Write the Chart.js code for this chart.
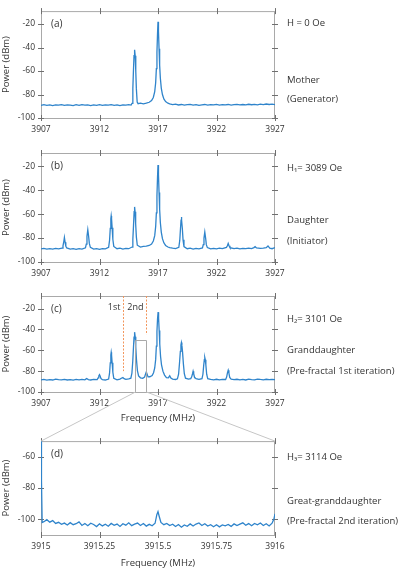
<!DOCTYPE html>
<html>
<head>
<meta charset="utf-8">
<script src="https://cdn.jsdelivr.net/npm/chart.js@4.4.0/dist/chart.umd.min.js"></script>
<style>
  body { margin: 0; background: #fff; width: 399px; height: 569px; position: relative; overflow: hidden; }
  canvas { position: absolute; left: 0; }
  .note { position: absolute; left: 287px; font: 9.5px "Open Sans", sans-serif; color: #333; white-space: nowrap; line-height: 12px; }
</style>
</head>
<body>
<canvas id="chartA" width="399" height="140" style="top:0px"></canvas>
<canvas id="chartB" width="399" height="140" style="top:140px"></canvas>
<canvas id="chartD" width="399" height="139" style="top:430px"></canvas>
<canvas id="chartC" width="399" height="165" style="top:280px"></canvas>

<div class="note" style="top:17px">H = 0 Oe</div>
<div class="note" style="top:74px">Mother</div>
<div class="note" style="top:93px">(Generator)</div>
<div class="note" style="top:162px">H₁= 3089 Oe</div>
<div class="note" style="top:214px">Daughter</div>
<div class="note" style="top:235px">(Initiator)</div>
<div class="note" style="top:313px">H₂= 3101 Oe</div>
<div class="note" style="top:344px">Granddaughter</div>
<div class="note" style="top:365px">(Pre-fractal 1st iteration)</div>
<div class="note" style="top:451px">H₃= 3114 Oe</div>
<div class="note" style="top:495px">Great-granddaughter</div>
<div class="note" style="top:515px">(Pre-fractal 2nd iteration)</div>

<script>
// tick labels
const freqTicks = [3907, 3912, 3917, 3922, 3927];
const zoomFreqTicks = [3915, 3915.25, 3915.5, 3915.75, 3916];
const powerTicks = [-100, -80, -60, -40, -20];
const zoomPowerTicks = [-100, -80, -60];

// (c) annotations: iteration markers and zoom window
const markerFreqs = [3914, 3916];
const markerEnds = [-80, -45];
const markerLabels = ['1st', '2nd'];
const zoomWindow = [3915, 3916];
const zoomBoxTop = -50;

// spectra: [frequency MHz, power dBm]
const spectrumA = [
  [3907,-89.3],[3907.25,-88.7],[3907.5,-89.2],[3907.75,-88.8],[3908,-89.4],[3908.25,-88.9],[3908.5,-89.1],[3908.75,-88.6],
  [3909,-89.3],[3909.25,-88.8],[3909.5,-89.0],[3909.75,-89.5],[3910,-88.7],[3910.25,-89.2],[3910.5,-88.6],[3910.75,-89.1],
  [3911,-88.8],[3911.25,-89.4],[3911.5,-88.9],[3911.75,-89.2],[3912,-88.7],[3912.25,-89.3],[3912.5,-88.8],[3912.75,-89.1],
  [3913,-88.6],[3913.25,-89.2],[3913.5,-88.9],[3913.75,-89.4],[3914,-88.8],[3914.25,-89.1],[3914.5,-88.7],[3914.7,-89.0],
  [3914.78,-87.5],[3914.85,-75],[3914.9,-60],[3914.95,-47],[3915,-42],[3915.05,-47],[3915.1,-60],[3915.15,-75],
  [3915.22,-86.5],[3915.3,-87.8],[3915.5,-87.4],[3915.75,-87.9],[3916,-87.3],[3916.25,-86.6],[3916.45,-85.2],[3916.6,-82.5],
  [3916.72,-77.5],[3916.8,-70],[3916.86,-58],[3916.91,-44],[3916.96,-28],[3917,-18],[3917.04,-26],[3917.09,-41],
  [3917.14,-55],[3917.2,-66],[3917.28,-74.5],[3917.38,-80],[3917.5,-83.8],[3917.65,-86],[3917.85,-87.4],[3918,-88.0],
  [3918.25,-88.6],[3918.5,-88.2],[3918.75,-88.9],
  [3919,-88.5],[3919.25,-89.1],[3919.5,-88.7],[3919.75,-88.4],[3920,-89.0],[3920.25,-88.6],[3920.5,-89.2],[3920.75,-88.8],
  [3921,-88.5],[3921.25,-89.1],[3921.5,-88.7],[3921.75,-88.9],[3922,-88.4],[3922.25,-89.0],[3922.5,-88.6],[3922.75,-88.9],
  [3923,-88.5],[3923.25,-89.1],[3923.5,-88.7],[3923.75,-88.4],[3924,-88.9],[3924.25,-88.5],[3924.5,-88.8],[3924.75,-88.3],
  [3925,-88.7],[3925.25,-88.4],[3925.5,-88.8],[3925.75,-88.2],[3926,-88.6],[3926.25,-88.1],[3926.5,-88.5],[3926.75,-88.2],
  [3927,-88.6]
];

const spectrumB = [
  [3907,-89.1],[3907.25,-88.7],[3907.5,-89.3],[3907.75,-88.8],[3908,-89.2],[3908.25,-88.6],[3908.5,-89.0],[3908.8,-88.4],
  [3908.88,-86.5],[3908.94,-83.5],[3909,-79.5],[3909.06,-83.5],[3909.12,-86.8],[3909.2,-88.3],[3909.5,-89.2],[3909.75,-88.8],
  [3910,-89.4],[3910.25,-88.9],[3910.5,-89.3],[3910.8,-88.2],[3910.87,-85],[3910.93,-78.5],[3911,-73],[3911.07,-78.5],
  [3911.13,-84.5],[3911.22,-87.8],[3911.5,-89.2],[3911.75,-88.8],[3912,-89.5],[3912.25,-88.9],[3912.5,-89.1],[3912.78,-87.8],
  [3912.86,-82],[3912.92,-72],[3912.97,-64],[3913,-61.5],[3913.03,-64],[3913.08,-71.5],[3913.14,-81],[3913.22,-87],
  [3913.5,-88.9],[3913.75,-88.5],[3914,-89.2],[3914.25,-88.7],[3914.5,-88.9],[3914.78,-87.5],[3914.85,-81],[3914.91,-69],
  [3914.96,-58],[3915,-54],[3915.04,-58],[3915.09,-68],[3915.15,-79],[3915.23,-86],[3915.5,-87.6],[3915.75,-87.0],
  [3916,-86.8],[3916.25,-86.2],[3916.45,-85.0],[3916.6,-82.5],[3916.72,-78],[3916.8,-70.5],[3916.86,-59],[3916.91,-45],
  [3916.96,-29],[3917,-19],[3917.04,-27],[3917.09,-42],[3917.14,-56],[3917.2,-67],[3917.28,-75],[3917.38,-80.5],
  [3917.5,-84],[3917.65,-86.2],[3917.85,-87.5],[3918,-88.0],[3918.25,-88.5],[3918.5,-88.8],[3918.78,-87.8],[3918.86,-82],
  [3918.92,-72.5],[3918.97,-65],[3919,-62.5],[3919.03,-65],[3919.08,-72],[3919.14,-81.5],[3919.22,-87.2],[3919.5,-88.9],
  [3919.75,-88.5],[3920,-89.2],[3920.25,-88.7],[3920.5,-89.0],[3920.8,-88.3],[3920.87,-85.5],[3920.93,-80],[3921,-75],
  [3921.07,-80],[3921.13,-85.5],[3921.22,-88],[3921.5,-89.1],[3921.75,-88.6],[3922,-89.0],[3922.25,-88.5],[3922.5,-88.9],
  [3922.85,-87.8],[3922.93,-86.5],[3923,-84.5],[3923.07,-86.5],[3923.15,-88],[3923.5,-88.8],[3923.75,-88.4],
  [3924,-89.0],[3924.25,-88.6],[3924.5,-88.9],[3924.75,-88.5],[3925,-88.8],[3925.2,-88.0],[3925.3,-87.2],[3925.42,-88.3],
  [3925.75,-88.7],[3926,-88.4],[3926.25,-88.0],[3926.4,-86.6],[3926.55,-88.4],[3926.75,-88.9],[3927,-87.9]
];

const spectrumC = [
  [3907,-88.4],[3907.25,-88.0],[3907.5,-88.6],[3907.75,-88.1],[3908,-88.5],[3908.25,-87.6],[3908.5,-88.2],[3908.75,-88.4],
  [3909,-87.9],[3909.25,-88.5],[3909.5,-88.1],[3909.75,-88.6],[3910,-88.0],[3910.25,-88.4],[3910.5,-87.9],[3910.75,-88.3],
  [3910.9,-87.0],[3911.05,-88.1],[3911.25,-88.5],[3911.5,-88.0],[3911.8,-88.1],[3911.88,-86.5],[3911.94,-84.5],[3912,-83.3],
  [3912.06,-84.8],[3912.13,-87.2],[3912.25,-88.2],[3912.5,-88.5],[3912.78,-87.6],[3912.86,-82],[3912.92,-72],[3912.97,-64.5],
  [3913,-62],[3913.03,-64.5],[3913.08,-72],[3913.14,-81],[3913.22,-86.8],[3913.5,-88.3],[3913.75,-87.6],[3913.9,-86.6],
  [3914,-86.2],[3914.1,-87.2],[3914.25,-87.9],[3914.5,-87.5],[3914.68,-86.8],[3914.77,-82],[3914.84,-71],[3914.9,-58],
  [3914.95,-47.5],[3915,-42.7],[3915.05,-47],[3915.1,-57],[3915.16,-69],[3915.24,-79.5],[3915.34,-84.5],[3915.5,-86.4],
  [3915.7,-86.8],[3915.85,-85.8],[3915.93,-83],[3916,-80.8],[3916.07,-83],[3916.15,-85.5],[3916.3,-85.4],[3916.5,-84.2],
  [3916.62,-81.5],[3916.72,-77],[3916.8,-69],[3916.86,-56],[3916.91,-42],[3916.96,-30],[3917.01,-23.5],[3917.05,-29],
  [3917.1,-41],[3917.15,-54],[3917.22,-66],[3917.3,-74],[3917.42,-80],[3917.56,-83.8],[3917.72,-86.2],[3917.88,-86.4],
  [3918,-84.5],[3918.1,-86.6],[3918.25,-87.6],[3918.5,-88.0],[3918.66,-87.4],[3918.76,-83],[3918.84,-72],[3918.91,-61],
  [3918.96,-55],[3919,-52.6],[3919.04,-55],[3919.1,-62],[3919.17,-73],[3919.25,-82.5],[3919.35,-86.8],[3919.6,-87.7],
  [3919.8,-87.2],[3919.88,-85.5],[3919.95,-82.5],[3920,-80.1],[3920.05,-82.5],[3920.12,-85.8],[3920.25,-87.3],[3920.5,-87.8],
  [3920.76,-87.2],[3920.84,-83],[3920.91,-74],[3920.96,-69],[3921,-67],[3921.04,-69],[3921.09,-74],[3921.16,-83],
  [3921.25,-87.2],[3921.5,-87.9],[3921.75,-88.3],[3922,-87.8],[3922.25,-88.4],[3922.5,-87.9],[3922.78,-88.0],[3922.87,-85.5],
  [3922.94,-81.5],[3923,-79.2],[3923.06,-81.8],[3923.13,-86],[3923.25,-87.6],[3923.5,-88.2],[3923.75,-87.8],
  [3924,-88.4],[3924.25,-88.0],[3924.5,-88.5],[3924.75,-87.7],[3925,-88.1],[3925.25,-88.4],[3925.5,-87.6],[3925.75,-88.0],
  [3926,-88.3],[3926.25,-87.8],[3926.5,-88.2],[3926.75,-87.9],[3927,-88.2]
];

const spectrumD = [
  [3915,-43],[3915.002,-75],[3915.005,-102],[3915.0125,-101.5],[3915.025,-100.2],[3915.0375,-101.8],[3915.05,-100.8],
  [3915.0625,-102.6],[3915.075,-101.9],[3915.0875,-103.2],[3915.1,-102.4],[3915.1125,-103.6],[3915.125,-102.1],
  [3915.1375,-103.4],[3915.15,-102.8],[3915.1625,-101.6],[3915.175,-103.9],[3915.1875,-102.7],[3915.2,-104.1],
  [3915.2125,-102.5],[3915.225,-103.3],[3915.2375,-104.6],[3915.25,-102.9],[3915.2625,-104.2],[3915.275,-103.1],
  [3915.2875,-104.4],[3915.3,-102.6],[3915.3125,-103.8],[3915.325,-103.0],[3915.3375,-104.5],[3915.35,-102.8],
  [3915.3625,-103.7],[3915.375,-102.2],[3915.3875,-104.0],[3915.4,-103.1],[3915.4125,-102.4],[3915.425,-103.9],
  [3915.4375,-102.7],[3915.45,-104.3],[3915.4625,-103.2],[3915.475,-104.1],[3915.4875,-102.5],[3915.495,-97],
  [3915.5,-95.1],[3915.505,-98],[3915.5125,-102.0],[3915.525,-103.4],[3915.5375,-102.6],[3915.55,-104.0],
  [3915.5625,-103.1],[3915.575,-104.6],[3915.5875,-103.3],[3915.6,-105.0],[3915.6125,-103.6],[3915.625,-104.4],
  [3915.6375,-102.9],[3915.65,-104.2],[3915.6625,-103.0],[3915.675,-102.3],[3915.6875,-103.9],[3915.7,-102.8],
  [3915.7125,-104.3],[3915.725,-103.4],[3915.7375,-104.7],[3915.75,-103.5],[3915.7625,-104.8],[3915.775,-103.6],
  [3915.7875,-104.2],[3915.8,-103.3],[3915.8125,-104.5],[3915.825,-102.9],[3915.8375,-104.0],[3915.85,-103.1],
  [3915.8625,-102.2],[3915.875,-103.8],[3915.8875,-102.7],[3915.9,-104.1],[3915.9125,-102.6],[3915.925,-103.5],
  [3915.9375,-102.3],[3915.95,-103.9],[3915.9625,-102.8],[3915.975,-104.2],[3915.9875,-102.4],[3915.995,-100],
  [3916,-96.5]
];

const FONT = '"Open Sans", sans-serif';
const TEXT = '#333333';

// box around the plot with ticks on all four sides
const framePlugin = {
    id: 'frame',
    beforeDatasetsDraw(chart, args, opts) {
        const {ctx, chartArea: a, scales: {x, y}} = chart;
        ctx.save();
        ctx.strokeStyle = '#a9a9a9';
        ctx.lineWidth = 1;
        ctx.strokeRect(a.left + 0.5, a.top + 0.5, a.right - a.left - 1, a.bottom - a.top);
        ctx.strokeStyle = '#6f6f6f';
        ctx.beginPath();
        x.ticks.forEach(t => {
            const px = Math.round(x.getPixelForValue(t.value)) + 0.5;
            ctx.moveTo(px, a.top - 3); ctx.lineTo(px, a.top + 3);
            ctx.moveTo(px, a.bottom - 3); ctx.lineTo(px, a.bottom + 3);
        });
        y.ticks.forEach(t => {
            const py = Math.round(y.getPixelForValue(t.value)) + 0.5;
            ctx.moveTo(a.left - 3, py); ctx.lineTo(a.left + 3, py);
            ctx.moveTo(a.right - 3, py); ctx.lineTo(a.right + 3, py);
        });
        ctx.stroke();
        ctx.fillStyle = TEXT;
        ctx.font = '10px ' + FONT;
        ctx.textBaseline = 'middle';
        ctx.fillText(opts.label, a.left + 10, a.top + 13);
        ctx.restore();
    }
};

function makeChart(id, data, o) {
    return new Chart(document.getElementById(id), {
        type: 'line',
        data: {
            datasets: [{
                data: data.map(p => ({x: p[0], y: p[1]})),
                borderColor: '#2f84cb',
                borderWidth: 1.3,
                pointRadius: 0,
                tension: 0
            }]
        },
        options: {
            responsive: false,
            animation: false,
            devicePixelRatio: 1,
            layout: {padding: {top: o.padTop, right: 124, left: 0, bottom: o.padBottom || 0}},
            plugins: {
                legend: {display: false},
                tooltip: {enabled: false},
                frame: {label: o.label}
            },
            scales: {
                x: {
                    type: 'linear',
                    min: o.xMin, max: o.xMax,
                    grid: {display: false, drawTicks: false},
                    border: {display: false},
                    afterBuildTicks: s => { s.ticks = o.xTicks.map(v => ({value: v})); },
                    afterFit: s => { s.height = o.xHeight; },
                    ticks: {
                        font: {family: FONT, size: 8.5}, color: TEXT, padding: 6,
                        maxRotation: 0, autoSkip: false,
                        callback: v => String(v)
                    },
                    title: {
                        display: !!o.xTitle, text: 'Frequency (MHz)',
                        font: {family: FONT, size: 9.5}, color: TEXT, padding: 0
                    }
                },
                y: {
                    min: o.yMin, max: o.yMax,
                    grid: {display: false, drawTicks: false},
                    border: {display: false},
                    afterBuildTicks: s => { s.ticks = o.yTicks.map(v => ({value: v})); },
                    afterFit: s => { s.width = 41; },
                    ticks: {
                        font: {family: FONT, size: 8.5}, color: TEXT, padding: 6,
                        callback: v => String(v)
                    },
                    title: {
                        display: true, text: 'Power (dBm)',
                        font: {family: FONT, size: 9.5}, color: TEXT, padding: {top: 1, bottom: 0}
                    }
                }
            }
        },
        plugins: [framePlugin].concat(o.plugins || [])
    });
}

makeChart('chartA', spectrumA, {
    label: '(a)', padTop: 9, xHeight: 22, xMin: 3907, xMax: 3927, yMin: -100, yMax: -9,
    xTicks: freqTicks, yTicks: powerTicks
});

makeChart('chartB', spectrumB, {
    label: '(b)', padTop: 13, xHeight: 18, xMin: 3907, xMax: 3927, yMin: -100, yMax: -9,
    xTicks: freqTicks, yTicks: powerTicks
});

const chartD = makeChart('chartD', spectrumD, {
    label: '(d)', padTop: 11, xHeight: 34, xMin: 3915, xMax: 3916, yMin: -110, yMax: -50,
    xTicks: zoomFreqTicks, yTicks: zoomPowerTicks, xTitle: true
});

// markers, zoom box and the guide lines down to panel (d)
const zoomGuides = {
    id: 'zoomGuides',
    afterDatasetsDraw(chart) {
        const {ctx, chartArea: a, scales: {x, y}} = chart;
        ctx.save();
        ctx.lineWidth = 1;
        ctx.font = '9px ' + FONT;
        ctx.fillStyle = TEXT;
        ctx.textAlign = 'right';
        ctx.textBaseline = 'middle';
        markerFreqs.forEach((f, i) => {
            const px = Math.round(x.getPixelForValue(f)) + 0.5;
            ctx.strokeStyle = '#f2965c';
            ctx.setLineDash([2, 1.5]);
            ctx.beginPath();
            ctx.moveTo(px, a.top);
            ctx.lineTo(px, y.getPixelForValue(markerEnds[i]));
            ctx.stroke();
            ctx.fillText(markerLabels[i], px - 3, a.top + 11);
        });
        ctx.setLineDash([]);
        const x0 = Math.round(x.getPixelForValue(zoomWindow[0])) + 0.5;
        const x1 = Math.round(x.getPixelForValue(zoomWindow[1])) + 0.5;
        const yTop = Math.round(y.getPixelForValue(zoomBoxTop)) + 0.5;
        ctx.strokeStyle = '#a9a9a9';
        ctx.beginPath();
        ctx.moveTo(x0, a.bottom); ctx.lineTo(x0, yTop); ctx.lineTo(x1, yTop); ctx.lineTo(x1, a.bottom);
        ctx.stroke();
        const shift = chartD.canvas.offsetTop - chart.canvas.offsetTop;
        const dA = chartD.chartArea;
        ctx.strokeStyle = '#c6c6c6';
        ctx.beginPath();
        ctx.moveTo(x0, a.bottom); ctx.lineTo(dA.left, dA.top + shift);
        ctx.moveTo(x1, a.bottom); ctx.lineTo(dA.right, dA.top + shift);
        ctx.stroke();
        ctx.restore();
    }
};

makeChart('chartC', spectrumC, {
    label: '(c)', padTop: 16, padBottom: 21, xHeight: 32, xMin: 3907, xMax: 3927, yMin: -100, yMax: -8,
    xTicks: freqTicks, yTicks: powerTicks, xTitle: true, plugins: [zoomGuides]
});
</script>
</body>
</html>
